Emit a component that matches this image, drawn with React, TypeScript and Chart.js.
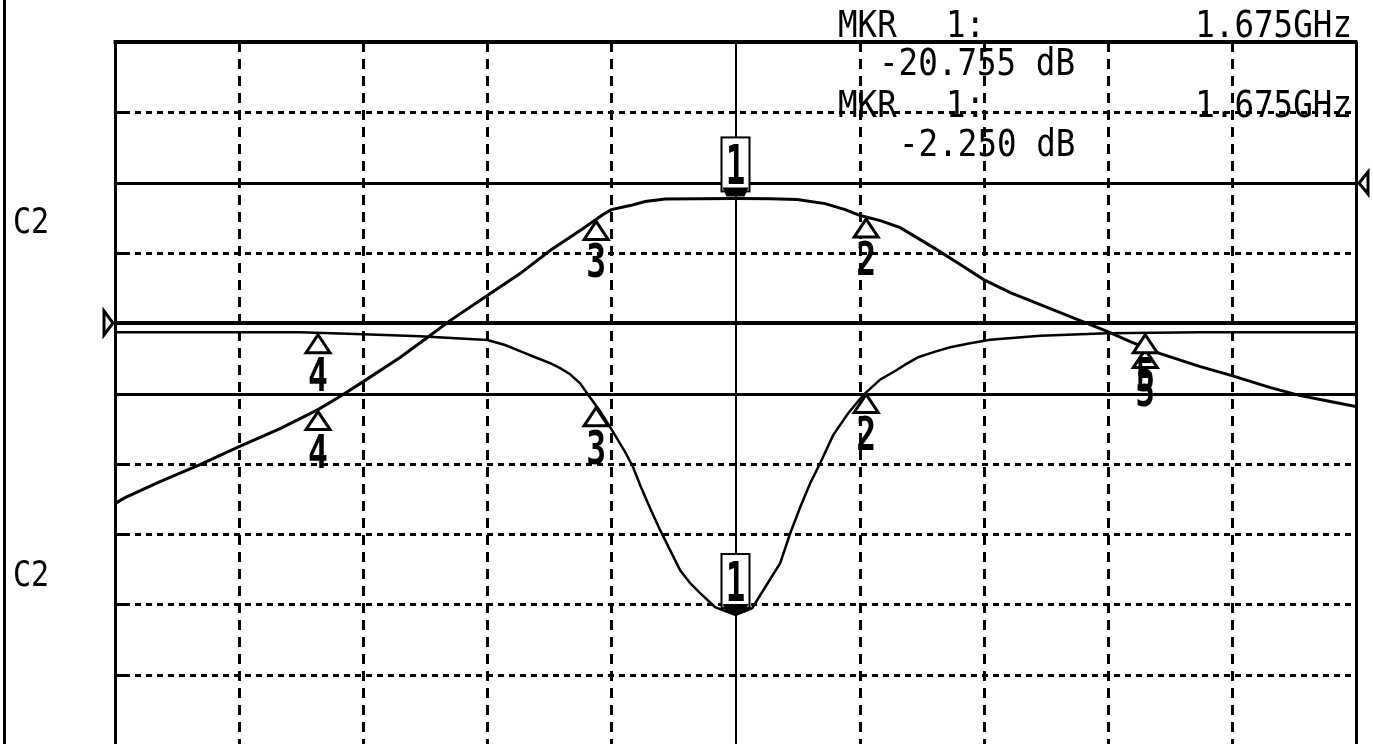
import { useEffect, useRef } from 'react';
import { Chart, registerables } from 'chart.js';

Chart.register(...registerables);

// ---- Analyzer settings ----
const freqStartGHz = 1.175;
const freqStopGHz = 2.175;
const freqPerDivGHz = 0.1;
const s21MinDb = -80; // 10 dB/div, ref 0 dB
const s21MaxDb = 20;
const s21StepDb = 10;
const s11MinDb = -30; // 5 dB/div, ref 0 dB
const s11MaxDb = 20;
const s21RefDb = 0;
const s11RefDb = 0;
const limitLineS21Db = -30;

// ---- Upper trace (transmission) ----
const s21Freq = [
  1.175, 1.1831, 1.2113, 1.2435, 1.275, 1.308, 1.3386, 1.3563, 1.375, 1.4047,
  1.4289, 1.445, 1.475, 1.5014, 1.5256, 1.5522, 1.5683, 1.575, 1.5901, 1.6022,
  1.6183, 1.6465, 1.675, 1.7029, 1.7247, 1.7472, 1.7634, 1.7755, 1.7917, 1.8077,
  1.8198, 1.8359, 1.8561, 1.875, 1.8964, 1.9206, 1.9447, 1.975, 1.9931, 2.0173,
  2.0495, 2.075, 2.1061, 2.1301, 2.1543, 2.175,
];
const s21Db = [
  -45.66, -44.81, -42.53, -40.11, -37.55, -34.99, -32.29, -30.44, -28.31, -24.89,
  -21.76, -19.63, -16.07, -12.94, -9.67, -6.54, -4.55, -3.84, -3.27, -2.7,
  -2.35, -2.28, -2.25, -2.28, -2.4, -2.99, -3.84, -4.69, -5.41, -6.4,
  -7.68, -9.39, -11.66, -13.8, -15.65, -17.35, -19.06, -21.2, -22.62, -24.32,
  -26.17, -27.45, -29.16, -30.3, -31.15, -31.86,
];

// ---- Lower trace (reflection) ----
const s11Freq = [
  1.175, 1.2435, 1.3241, 1.375, 1.4208, 1.475, 1.4893, 1.5014, 1.5135, 1.5256,
  1.5337, 1.5417, 1.5498, 1.5554, 1.5659, 1.5755, 1.5861, 1.5925, 1.5982, 1.6062,
  1.6143, 1.6223, 1.6304, 1.6385, 1.6465, 1.6586, 1.675, 1.6884, 1.6989, 1.711,
  1.7191, 1.7271, 1.7352, 1.7432, 1.7537, 1.7658, 1.7779, 1.7917, 1.8037, 1.8117,
  1.8222, 1.8359, 1.848, 1.8641, 1.8802, 1.9206, 1.975, 2.0495, 2.175,
];
const s11Db = [
  -0.64, -0.64, -0.64, -0.78, -0.92, -1.2, -1.55, -1.98, -2.42, -2.84,
  -3.2, -3.63, -4.27, -4.98, -6.26, -7.61, -9.17, -10.24, -11.52, -13.16,
  -14.72, -16.14, -17.57, -18.49, -19.2, -20.2, -20.755, -20.27, -18.78, -17.07,
  -14.94, -13.09, -11.38, -9.96, -7.96, -6.4, -5.12, -4.0, -3.4, -2.95,
  -2.42, -2.02, -1.71, -1.42, -1.18, -0.9, -0.71, -0.64, -0.64,
];

// ---- Markers ----
const markerFreqs = [1.675, 1.7803, 1.5627, 1.3386, 2.0052];
const markerLabels = ['1', '2', '3', '4', '5'];

// ---- Readout texts ----
const mkrWord = 'MKR';
const mkrNum = '1:';
const mkrFreqText = '1.675GHz';
const mkrValueTexts = ['-20.755 dB', '-2.250 dB'];
const channelLabels = ['C2', 'C2'];

const FONT = '"DejaVu Sans Mono", "Liberation Mono", monospace';

function interp(xs: number[], ys: number[], x: number) {
  for (let i = 0; i < xs.length - 1; i++) {
    if (x >= xs[i] && x <= xs[i + 1]) {
      const t = (x - xs[i]) / (xs[i + 1] - xs[i]);
      return ys[i] + t * (ys[i + 1] - ys[i]);
    }
  }
  return ys[ys.length - 1];
}

function drawText(
  ctx: CanvasRenderingContext2D,
  text: string,
  x: number,
  y: number,
  font: string,
  sx: number,
  align: CanvasTextAlign
) {
  ctx.save();
  ctx.translate(x, y);
  ctx.scale(sx, 1);
  ctx.font = font;
  ctx.textAlign = align;
  ctx.textBaseline = 'alphabetic';
  ctx.fillStyle = '#000';
  ctx.fillText(text, 0, 0);
  ctx.restore();
}

function line(ctx: CanvasRenderingContext2D, x1: number, y1: number, x2: number, y2: number) {
  ctx.beginPath();
  ctx.moveTo(x1, y1);
  ctx.lineTo(x2, y2);
  ctx.stroke();
}

function drawMarker(ctx: CanvasRenderingContext2D, px: number, py: number, label: string) {
  ctx.save();
  ctx.strokeStyle = '#000';
  if (label === '1') {
    const bw = 28;
    const bh = 54;
    const bb = py - 7;
    ctx.fillStyle = '#fff';
    ctx.fillRect(px - bw / 2, bb - bh, bw, bh);
    ctx.lineWidth = 2;
    ctx.strokeRect(px - bw / 2, bb - bh, bw, bh);
    drawText(ctx, label, px, bb - 7, `bold 56px ${FONT}`, 0.58, 'center');
    ctx.fillStyle = '#000';
    ctx.beginPath();
    ctx.moveTo(px - 13, bb - 4);
    ctx.lineTo(px + 13, bb - 4);
    ctx.lineTo(px + 9, bb + 5);
    ctx.lineTo(px - 9, bb + 5);
    ctx.closePath();
    ctx.fill();
  } else {
    ctx.lineWidth = 3;
    ctx.fillStyle = '#fff';
    ctx.beginPath();
    ctx.moveTo(px, py + 2);
    ctx.lineTo(px + 12, py + 20);
    ctx.lineTo(px - 12, py + 20);
    ctx.closePath();
    ctx.fill();
    ctx.stroke();
    drawText(ctx, label, px, py + 58, `bold 46px ${FONT}`, 0.72, 'center');
  }
  ctx.restore();
}

const analyzerPlugin = {
  id: 'analyzerScreen',
  beforeDatasetsDraw(chart: any) {
    const ctx: CanvasRenderingContext2D = chart.ctx;
    const xs = chart.scales.x;
    const y21 = chart.scales.yS21;
    const y11 = chart.scales.yS11;
    const { left, right, top, bottom } = chart.chartArea;
    ctx.save();
    ctx.strokeStyle = '#000';

    // vertical grid
    const nDiv = Math.round((freqStopGHz - freqStartGHz) / freqPerDivGHz);
    for (let i = 1; i < nDiv; i++) {
      const px = Math.round(xs.getPixelForValue(freqStartGHz + i * freqPerDivGHz));
      if (i === nDiv / 2) {
        ctx.setLineDash([]);
        ctx.lineWidth = 2;
        line(ctx, px, top, px, bottom);
      } else {
        ctx.setLineDash([10, 7]);
        ctx.lineWidth = 3;
        line(ctx, px + 0.5, top, px + 0.5, bottom);
      }
    }

    // horizontal grid (dotted)
    const solidYs = [
      Math.round(y21.getPixelForValue(s21RefDb)),
      Math.round(y11.getPixelForValue(s11RefDb)),
      Math.round(y21.getPixelForValue(limitLineS21Db)),
    ];
    for (let v = s21MinDb + s21StepDb; v < s21MaxDb; v += s21StepDb) {
      const py = Math.round(y21.getPixelForValue(v));
      if (solidYs.some((s) => Math.abs(s - py) < 3)) continue;
      ctx.lineWidth = 3;
      ctx.setLineDash([]);
      line(ctx, left, py + 0.5, left + 15, py + 0.5);
      ctx.setLineDash([6, 5]);
      line(ctx, left + 20, py + 0.5, right, py + 0.5);
    }

    // solid reference lines
    ctx.setLineDash([]);
    ctx.lineWidth = 3;
    line(ctx, left, solidYs[0] + 0.5, right, solidYs[0] + 0.5);
    ctx.lineWidth = 4;
    line(ctx, left, solidYs[1], right, solidYs[1]);
    ctx.lineWidth = 3;
    line(ctx, left, solidYs[2] + 0.5, right, solidYs[2] + 0.5);

    // borders
    ctx.lineWidth = 4;
    line(ctx, left - 1.5, top, right + 1.5, top);
    ctx.lineWidth = 3;
    line(ctx, left + 0.5, top, left + 0.5, bottom);
    line(ctx, right + 0.5, top, right + 0.5, bottom);
    line(ctx, 4.5, 0, 4.5, chart.height);

    // reference arrows
    ctx.lineWidth = 3;
    const r11 = solidYs[1];
    ctx.beginPath();
    ctx.moveTo(left - 11, r11 - 12);
    ctx.lineTo(left - 2, r11);
    ctx.lineTo(left - 11, r11 + 12);
    ctx.closePath();
    ctx.stroke();
    const r21 = solidYs[0];
    ctx.beginPath();
    ctx.moveTo(right + 12, r21 - 11);
    ctx.lineTo(right + 3, r21);
    ctx.lineTo(right + 12, r21 + 11);
    ctx.closePath();
    ctx.stroke();
    ctx.restore();
  },
  afterDatasetsDraw(chart: any) {
    const ctx: CanvasRenderingContext2D = chart.ctx;
    const xs = chart.scales.x;
    const y21 = chart.scales.yS21;
    const y11 = chart.scales.yS11;

    markerFreqs.forEach((f, i) => {
      const px = xs.getPixelForValue(f);
      const p21 = y21.getPixelForValue(interp(s21Freq, s21Db, f));
      const p11 = y11.getPixelForValue(interp(s11Freq, s11Db, f));
      drawMarker(ctx, px, p21, markerLabels[i]);
      drawMarker(ctx, px, p11, markerLabels[i]);
    });

    const rf = `37px ${FONT}`;
    const sx = 0.88;
    drawText(ctx, mkrWord, 838, 37, rf, sx, 'left');
    drawText(ctx, mkrNum, 946, 37, rf, sx, 'left');
    drawText(ctx, mkrFreqText, 1352, 37, rf, sx, 'right');
    drawText(ctx, mkrValueTexts[0], 879, 75, rf, sx, 'left');
    drawText(ctx, mkrWord, 838, 117, rf, sx, 'left');
    drawText(ctx, mkrNum, 946, 117, rf, sx, 'left');
    drawText(ctx, mkrFreqText, 1352, 117, rf, sx, 'right');
    drawText(ctx, mkrValueTexts[1], 899, 156, rf, sx, 'left');

    drawText(ctx, channelLabels[0], 13, 233, `35px ${FONT}`, 0.86, 'left');
    drawText(ctx, channelLabels[1], 13, 586, `35px ${FONT}`, 0.86, 'left');
  },
};

export default function App() {
  const ref = useRef<HTMLCanvasElement | null>(null);
  useEffect(() => {
    if (!ref.current) return;
    const chart = new Chart(ref.current, {
      type: 'line',
      data: {
        datasets: [
          {
            label: 'S21',
            data: s21Freq.map((f, i) => ({ x: f, y: s21Db[i] })),
            yAxisID: 'yS21',
            borderColor: '#000',
            borderWidth: 3,
            pointRadius: 0,
            tension: 0,
          },
          {
            label: 'S11',
            data: s11Freq.map((f, i) => ({ x: f, y: s11Db[i] })),
            yAxisID: 'yS11',
            borderColor: '#000',
            borderWidth: 2.5,
            pointRadius: 0,
            tension: 0,
          },
        ],
      },
      options: {
        animation: false,
        responsive: false,
        devicePixelRatio: 1,
        layout: { padding: { left: 115, right: 17, top: 42, bottom: 1 } },
        plugins: { legend: { display: false }, tooltip: { enabled: false } },
        scales: {
          x: { type: 'linear', min: freqStartGHz, max: freqStopGHz, display: false },
          yS21: { type: 'linear', min: s21MinDb, max: s21MaxDb, display: false },
          yS11: { type: 'linear', min: s11MinDb, max: s11MaxDb, display: false },
        },
      },
      plugins: [analyzerPlugin],
    });
    return () => chart.destroy();
  }, []);
  return (
    <div
      style={{
        position: 'fixed',
        left: 0,
        top: 0,
        width: 1373,
        height: 744,
        overflow: 'hidden',
        background: '#fff',
      }}
    >
      <canvas ref={ref} width={1373} height={746} style={{ display: 'block' }} />
    </div>
  );
}
